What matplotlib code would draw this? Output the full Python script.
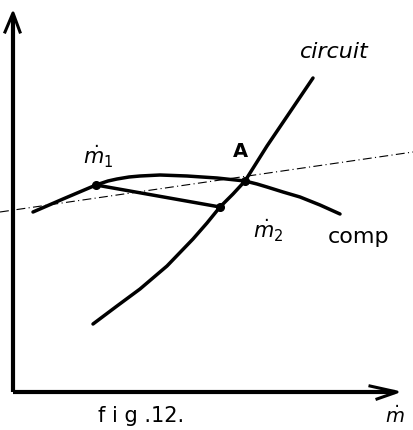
import matplotlib
matplotlib.use("Agg")
import matplotlib.pyplot as plt

# Compressor characteristic (flow, pressure rise)
comp_x = [20, 50, 83, 95, 104, 116, 127, 147, 174, 204, 232, 244, 254, 270, 287, 307, 327]
comp_y = [180, 193, 207, 211, 213, 215, 216, 217, 216, 214, 211, 208, 205, 200, 195, 187, 178]

# Circuit characteristic
circ_x = [80, 104, 127, 154, 180, 194, 207, 220, 232, 254, 277, 300]
circ_y = [68, 86, 103, 126, 153, 169, 185, 198, 211, 246, 280, 314]

# Operating points
m1 = (83, 207)
m2 = (207, 185)
point_a = (232, 211)

# Thin dash-dot reference line
ref_x = [-13, 400]
ref_y = [180, 240]

fig = plt.figure(figsize=(4.13, 4.31), dpi=100)
ax = fig.add_axes([0, 0, 1, 1])
ax.set_xlim(-13, 400)
ax.set_ylim(-38, 393)
ax.axis("off")

ink = "black"

# axes with open arrow heads
ax.plot([0, 0], [0, 376], color=ink, lw=3, solid_capstyle="butt")
ax.plot([0, 382], [0, 0], color=ink, lw=3, solid_capstyle="butt")
ax.plot([-8, 0, 7], [360, 379, 360], color=ink, lw=2.2)
ax.plot([357, 384, 364], [6, 0, -7], color=ink, lw=2.2)

# reference line
ax.plot(ref_x, ref_y, color=ink, lw=0.8, linestyle=(0, (8, 3, 1, 3)))

# characteristics
ax.plot(comp_x, comp_y, color=ink, lw=2.5, solid_joinstyle="round", solid_capstyle="round")
ax.plot(circ_x, circ_y, color=ink, lw=2.5, solid_joinstyle="round", solid_capstyle="round")

# throttling segment m1 -> m2
ax.plot([m1[0], m2[0]], [m1[1], m2[1]], color=ink, lw=2.5)

for p in (m1, m2, point_a):
    ax.plot(*p, "o", color=ink, markersize=5.5)

ax.text(70, 229, r"$\dot{m}_1$", fontsize=15, color=ink)
ax.text(240, 155, r"$\dot{m}_2$", fontsize=15, color=ink)
ax.text(220, 236, "A", fontsize=14, color=ink, fontweight="bold")
ax.text(315, 150, "comp", fontsize=16, color=ink)
ax.text(287, 335, "circuit", fontsize=16, color=ink, style="italic")
ax.text(85, -29, "f i g .12.", fontsize=15, color=ink)
ax.text(372, -30, r"$\dot{m}$", fontsize=14, color=ink)

fig.savefig("out.png", dpi=100)
